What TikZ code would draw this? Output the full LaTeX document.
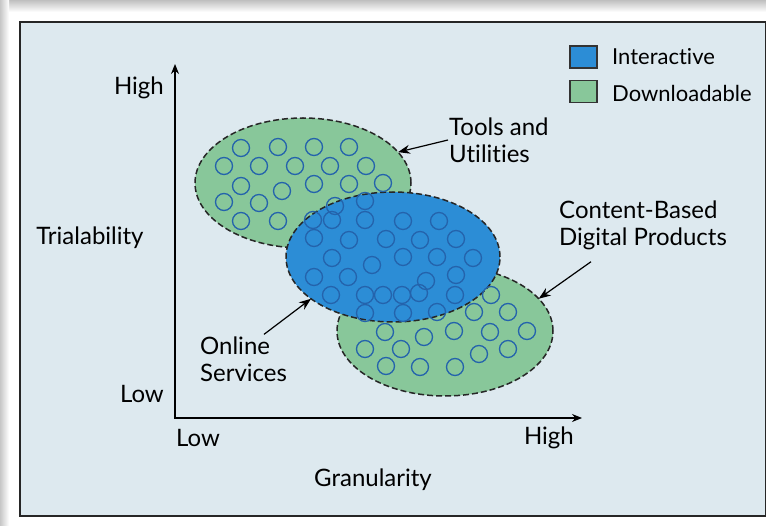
\documentclass[tikz,border=0pt]{standalone}
\usepackage{fontspec}
\setmainfont{Lato}[Ligatures={NoCommon}]
\usetikzlibrary{shapes.geometric,arrows.meta}
\definecolor{bgc}{HTML}{DDE9EF}
\definecolor{grn}{HTML}{88C79A}
\definecolor{blu}{HTML}{2C8DD6}
\definecolor{ring}{HTML}{2463AC}
\definecolor{dash}{HTML}{262626}
\tikzset{
  blob/.style={ellipse, draw=dash, dashed, dash pattern=on 6pt off 3pt, line width=1.5pt, inner sep=0pt, outer sep=0pt, minimum width=216pt, minimum height=130pt},
  lbl/.style={font=\fontsize{24}{27}\selectfont, inner sep=0pt, align=left},
  keylbl/.style={font=\fontsize{22}{27}\selectfont, inner sep=0pt},
  key/.style={draw=black!80, line width=1.3pt, minimum width=27pt, minimum height=22pt, inner sep=0pt},
  ptr/.style={line width=1.2pt, -{Stealth[length=12pt,width=9pt]}},
  axis/.style={line width=1.2pt, {Stealth[length=10pt,width=8pt]}-{Stealth[length=10pt,width=8pt]}},
  dot/.style={draw=ring, line width=1.3pt}
}
\begin{document}
\begin{tikzpicture}[x=1pt,y=-1pt]
\useasboundingbox (0,0) rectangle (766,526);
\fill[white] (0,0) rectangle (766,526);
\shade[top color=black!25, bottom color=white] (0,0) rectangle (766,12);
\shade[left color=black!22, right color=white] (0,0) rectangle (9,526);
\draw[line width=1.8pt, draw=black!85, fill=bgc] (20,22) rectangle (765.5,516);

% blobs
\node[blob, fill=grn] (tl) at (303,183) {};
\node[blob, fill=grn] (br) at (445,331) {};
\node[blob, fill=blu, minimum width=214pt] (bl) at (393,257) {};

% rings
\foreach \x/\y in {241/148,278/147,314/147,349/147,
  224/166,259/166,295/166,330/166,366/166,
  241/186,282/191,314/184,349/184,383/183,
  224/202,259/203,335/206,365/201,
  241/221,278/221,313/220,332/220,365/220,403/221,439/221,
  314/238,349/240,386/239,420/240,456/239,
  332/258,372/265,403/257,437/257,473/258,
  314/277,348/277,426/281,456/275,
  331/295,365/295,383/295,402/295,419/293,455/295,491/295,
  365/313,403/313,437/312,474/312,508/312,
  385/332,424/337,454/331,490/332,527/331,
  365/349,401/349,479/354,508/349,
  386/366,420/367,455/367}
  \draw[dot] (\x,\y) circle[radius=8.5];

% axes
\coordinate (ytop) at (175,64);
\coordinate (org) at (175,418);
\coordinate (xend) at (582,418);
\draw[axis] (ytop) -- (org) -- (xend);

% axis labels
\node[lbl, anchor=east] (yhigh) at (164,88) {High};
\node[lbl, anchor=east] (ylow) at (164,394) {Low};
\node[lbl] (ytitle) at (90,238) {Trialability};
\node[lbl, anchor=west] (xlow) at (176,438) {Low};
\node[lbl, anchor=east] (xhigh) at (574,438) {High};
\node[lbl] (xtitle) at (373,480) {Granularity};

% legend
\node[key, fill=blu] (kb) at (583.5,57) {};
\node[key, fill=grn] (kg) at (583.5,91.5) {};
\node[keylbl, anchor=west] (tb) at (612,57) {Interactive};
\node[keylbl, anchor=west] (tg) at (612,93) {Downloadable};

% callouts
\node[lbl, anchor=west] (tools) at (449,140) {Tools and\\Utilities};
\node[lbl, anchor=west] (content) at (559,225) {Content-Based\\Digital Products};
\node[lbl, anchor=west] (online) at (200,359) {Online\\Services};

\draw[ptr] ([xshift=-1pt]tools.west) -- (tl.18);
\draw[ptr] ([xshift=32pt,yshift=-12pt]content.south west) -- (br.19);
\draw[ptr] ([xshift=64pt,yshift=2pt]online.north west) -- (bl.207);
\end{tikzpicture}
\end{document}
